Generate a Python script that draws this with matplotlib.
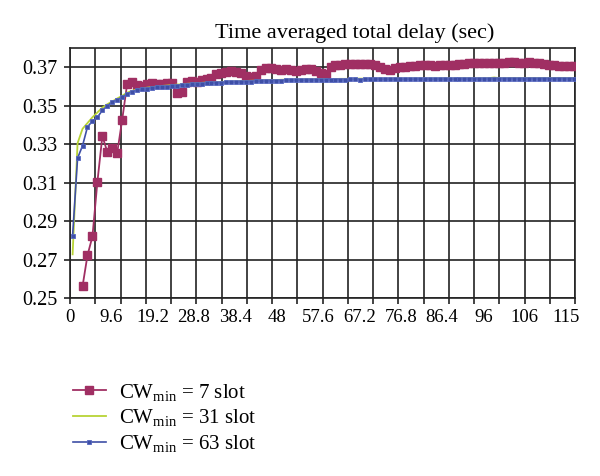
import numpy as np
import matplotlib
matplotlib.use('Agg')
import matplotlib.pyplot as plt
from matplotlib.ticker import FixedLocator, NullFormatter

plt.rcParams['font.family'] = ['Liberation Serif', 'DejaVu Serif']
plt.rcParams['mathtext.fontset'] = 'custom'
plt.rcParams['mathtext.rm'] = 'Liberation Serif'
plt.rcParams['mathtext.it'] = 'Liberation Serif:italic'

# sample times (sec), evenly spaced
time_s = 0.6 + 1.152 * np.arange(102)

cw7 = [np.nan, np.nan, 0.2560, 0.2722, 0.2820, 0.3104, 0.3342, 0.3260, 0.3280, 0.3256,
       0.3428, 0.3614, 0.3623, 0.3610, 0.3605, 0.3615, 0.3618, 0.3612, 0.3615, 0.3620,
       0.3618, 0.3565, 0.3572, 0.3625, 0.3628, 0.3625, 0.3632, 0.3640, 0.3645, 0.3665,
       0.3672, 0.3678, 0.3680, 0.3675, 0.3672, 0.3655, 0.3650, 0.3655, 0.3685, 0.3695,
       0.3698, 0.3690, 0.3685, 0.3690, 0.3688, 0.3682, 0.3686, 0.3690, 0.3692, 0.3680,
       0.3670, 0.3667, 0.3700, 0.3712, 0.3712, 0.3715, 0.3716, 0.3718, 0.3716, 0.3718,
       0.3715, 0.3712, 0.3700, 0.3690, 0.3688, 0.3698, 0.3700, 0.3702, 0.3705, 0.3708,
       0.3710, 0.3712, 0.3710, 0.3708, 0.3710, 0.3712, 0.3710, 0.3712, 0.3715, 0.3718,
       0.3720, 0.3720, 0.3722, 0.3720, 0.3722, 0.3724, 0.3722, 0.3724, 0.3725, 0.3726,
       0.3722, 0.3723, 0.3725, 0.3722, 0.3720, 0.3716, 0.3712, 0.3710, 0.3708, 0.3705,
       0.3706, 0.3708]

cw31 = [0.2727, 0.3305, 0.3380, 0.3410, 0.3440, 0.3465, 0.3490, 0.3508, 0.3522, 0.3538,
        0.3552, 0.3568, 0.3578, 0.3585, 0.3590, 0.3594, 0.3597, 0.3600, 0.3603, 0.3605,
        0.3607, 0.3610, 0.3612, 0.3614, 0.3616, 0.3618, 0.3619, 0.3621, 0.3622, 0.3623,
        0.3624, 0.3625, 0.3626, 0.3627, 0.3628, 0.3629, 0.3630, 0.3631, 0.3632, 0.3633,
        0.3634, 0.3634, 0.3635, 0.3636, 0.3636, 0.3637, 0.3637, 0.3638, 0.3638, 0.3638,
        0.3639, 0.3638, 0.3632, 0.3639, 0.3640, 0.3640, 0.3640, 0.3641, 0.3641, 0.3641,
        0.3641, 0.3641, 0.3642, 0.3641, 0.3641, 0.3642, 0.3642, 0.3641, 0.3642, 0.3642,
        0.3642, 0.3642, 0.3642, 0.3642, 0.3642, 0.3643, 0.3642, 0.3642, 0.3643, 0.3643,
        0.3643, 0.3643, 0.3643, 0.3643, 0.3644, 0.3647, 0.3644, 0.3643, 0.3644, 0.3644,
        0.3644, 0.3644, 0.3644, 0.3644, 0.3644, 0.3644, 0.3644, 0.3644, 0.3645, 0.3644,
        0.3644, 0.3644]

cw63 = [0.2825, 0.3227, 0.3292, 0.3390, 0.3420, 0.3440, 0.3476, 0.3500, 0.3519, 0.3531,
        0.3545, 0.3562, 0.3574, 0.3580, 0.3585, 0.3589, 0.3592, 0.3596, 0.3598, 0.3600,
        0.3602, 0.3605, 0.3607, 0.3609, 0.3611, 0.3613, 0.3615, 0.3616, 0.3618, 0.3619,
        0.3620, 0.3621, 0.3622, 0.3623, 0.3624, 0.3625, 0.3626, 0.3627, 0.3628, 0.3629,
        0.3630, 0.3630, 0.3631, 0.3632, 0.3632, 0.3633, 0.3633, 0.3634, 0.3634, 0.3635,
        0.3635, 0.3634, 0.3635, 0.3636, 0.3636, 0.3636, 0.3637, 0.3637, 0.3636, 0.3637,
        0.3637, 0.3637, 0.3638, 0.3638, 0.3637, 0.3638, 0.3638, 0.3638, 0.3638, 0.3638,
        0.3639, 0.3638, 0.3638, 0.3639, 0.3639, 0.3639, 0.3638, 0.3639, 0.3639, 0.3639,
        0.3639, 0.3640, 0.3639, 0.3639, 0.3640, 0.3639, 0.3640, 0.3640, 0.3640, 0.3640,
        0.3640, 0.3639, 0.3640, 0.3640, 0.3640, 0.3640, 0.3640, 0.3640, 0.3641, 0.3640,
        0.3640, 0.3640]

x_labels = ['0', '9.6', '19.2', '28.8', '38.4', '48', '57.6', '67.2', '76.8',
            '86.4', '96', '106', '115']
x_label_pos = [0, 9.6, 19.2, 28.8, 38.4, 48, 57.6, 67.2, 76.8, 86.4, 96, 105.6, 115.2]
y_ticks = [0.25, 0.27, 0.29, 0.31, 0.33, 0.35, 0.37]

x_max = 117.3
y_min, y_max = 0.25, 0.38

fig = plt.figure(figsize=(6, 4.76), dpi=100)
ax = fig.add_axes([0.1167, 0.374, 0.8417, 0.525])

ax.plot(time_s, cw7, color='#A02F63', marker='s', markersize=5.5, linewidth=1.3,
        label=r'CW$_{\mathrm{min}}$ = 7 slot', zorder=3)
ax.plot(time_s, cw31, color='#B8D335', linewidth=1.3,
        label=r'CW$_{\mathrm{min}}$ = 31 slot', zorder=4)
ax.plot(time_s, cw63, color='#3E4FA6', marker='s', markersize=3.3, markeredgecolor='#5566C0',
        markeredgewidth=0.6, linewidth=1.2, label=r'CW$_{\mathrm{min}}$ = 63 slot', zorder=5)

ax.set_xlim(0, x_max)
ax.set_ylim(y_min, y_max)

# vertical grid lines on 20 equal divisions, labels every 9.6 sec
ax.xaxis.remove_overlapping_locs = False
ax.xaxis.set_minor_locator(FixedLocator(np.linspace(0, x_max, 21)))
ax.xaxis.set_minor_formatter(NullFormatter())
ax.set_xticks(x_label_pos)
ax.set_xticklabels(x_labels)
ax.tick_params(axis='x', which='major', length=0, pad=8, labelsize=13.5)
ax.tick_params(axis='x', which='minor', length=4, width=1.2, color='#222222')
ax.grid(True, axis='x', which='minor', color='#222222', linewidth=1.2)

ax.set_yticks(y_ticks)
ax.set_yticklabels(['%.2f' % v for v in y_ticks])
ax.tick_params(axis='y', length=4, width=1.2, color='#222222', pad=5, labelsize=14.5)
ax.grid(True, axis='y', which='major', color='#222222', linewidth=1.2)
ax.set_axisbelow(True)

for s in ax.spines.values():
    s.set_color('#222222')
    s.set_linewidth(1.2)

fig.text(355 / 600, 1 - 33 / 476, 'Time averaged total delay (sec)', ha='center', va='center',
         fontsize=16)

fig.legend(loc='upper left', bbox_to_anchor=(0.09, 1 - 363 / 476), frameon=False,
           fontsize=15, handlelength=1.6, labelspacing=0.22, handletextpad=0.6)

fig.savefig('out.png', dpi=100)
